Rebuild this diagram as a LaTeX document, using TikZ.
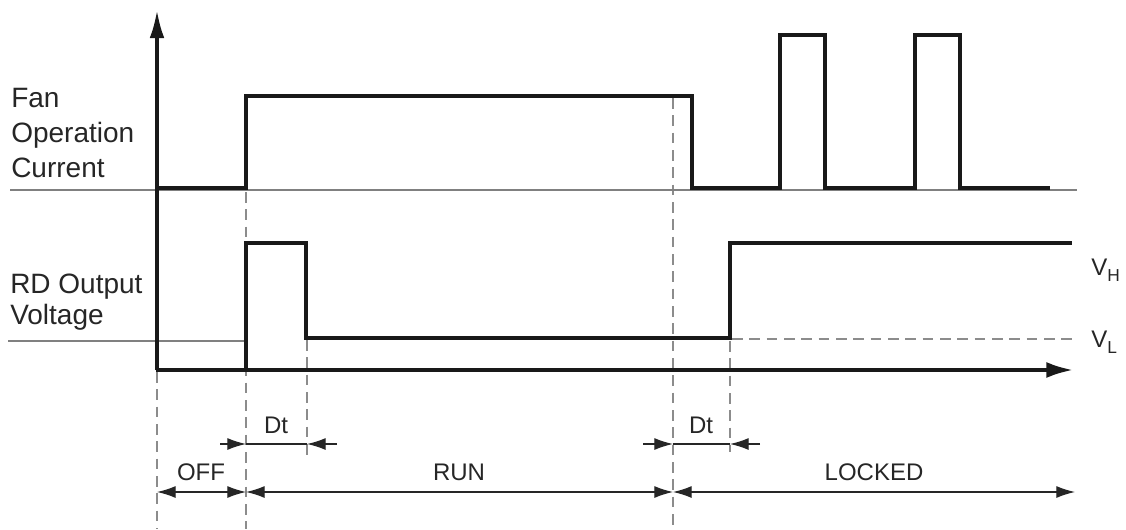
\documentclass[tikz,border=0pt]{standalone}
\usepackage{fontspec}
\setmainfont{Liberation Sans}
\usetikzlibrary{arrows.meta}
\newcommand{\subtxt}[1]{\raisebox{-0.28em}{\fontsize{13}{13}\selectfont #1}}
\begin{document}
\begin{tikzpicture}[x=0.75pt,y=-0.75pt,
  wave/.style={line width=2.4pt,line join=miter,color=black!90},
  axis/.style={line width=2.6pt,color=black!90},
  baseln/.style={line width=1.1pt,color=black!50},
  guide/.style={line width=1.1pt,color=black!45,dash pattern=on 8pt off 5pt},
  dim/.style={line width=0.9pt,color=black!85},
  tip/.style={-{Latex[length=14pt,width=9pt]}},
  dtip/.style={{Latex[length=14pt,width=9pt]}-{Latex[length=14pt,width=9pt]}},
  lbl/.style={font=\fontsize{21}{25}\selectfont,color=black!85,inner sep=0pt,anchor=base west},
  mlbl/.style={font=\fontsize{18}{20}\selectfont,color=black!85,inner sep=0pt,anchor=base}]
\useasboundingbox (0,0) rectangle (1126,529);
% guides
\draw[guide] (157,372) -- (157,529);
\draw[guide] (246,192) -- (246,529);
\draw[guide] (307,340) -- (307,460);
\draw[guide] (673,98) -- (673,529);
\draw[guide] (730,341) -- (730,452);
\draw[guide] (732,339) -- (1073,339);
% baselines
\draw[baseln] (10,190) -- (1077,190);
\draw[baseln] (8,341) -- (246,341);
% fan current
\draw[wave] (157,188) -- (246,188) -- (246,96) -- (692,96) -- (692,188) -- (780,188) -- (780,35) -- (825,35) -- (825,188) -- (915,188) -- (915,35) -- (960,35) -- (960,188) -- (1050,188);
% RD output
\draw[wave] (246,370) -- (246,243) -- (306,243) -- (306,338) -- (730,338) -- (730,243) -- (1072,243);
% axes
\draw[axis,-{Latex[length=21pt,width=11pt]}] (157,370) -- (157,10);
\draw[axis,-{Latex[length=20pt,width=12pt]}] (156,370) -- (1073,370);
% labels
\node[lbl] (fan1) at (11,107) {Fan};
\node[lbl] (fan2) at (11,142) {Operation};
\node[lbl] (fan3) at (11,177) {Current};
\node[lbl] (rd1) at (10,293) {RD Output};
\node[lbl] (rd2) at (10,324) {Voltage};
\node[mlbl,anchor=base west] (vh) at (1091,275) {V\subtxt{H}};
\node[mlbl,anchor=base west] (vl) at (1091,347) {V\subtxt{L}};
% Dt dims
\draw[dim,tip] (220,444) -- (246,444);
\draw[dim] (246,444) -- (307,444);
\draw[dim,tip] (337,444) -- (307,444);
\node[mlbl] (dt1) at (276,433) {Dt};
\draw[dim,tip] (643,444) -- (673,444);
\draw[dim] (673,444) -- (730,444);
\draw[dim,tip] (760,444) -- (730,444);
\node[mlbl] (dt2) at (701,433) {Dt};
% state dims
\draw[dim,dtip] (157,492) -- (246,492);
\draw[dim,dtip] (246,492) -- (673,492);
\draw[dim,dtip] (673,492) -- (1075,492);
\node[mlbl] (off) at (201,480) {OFF};
\node[mlbl] (run) at (459,480) {RUN};
\node[mlbl] (locked) at (874,480) {LOCKED};
\end{tikzpicture}
\end{document}
